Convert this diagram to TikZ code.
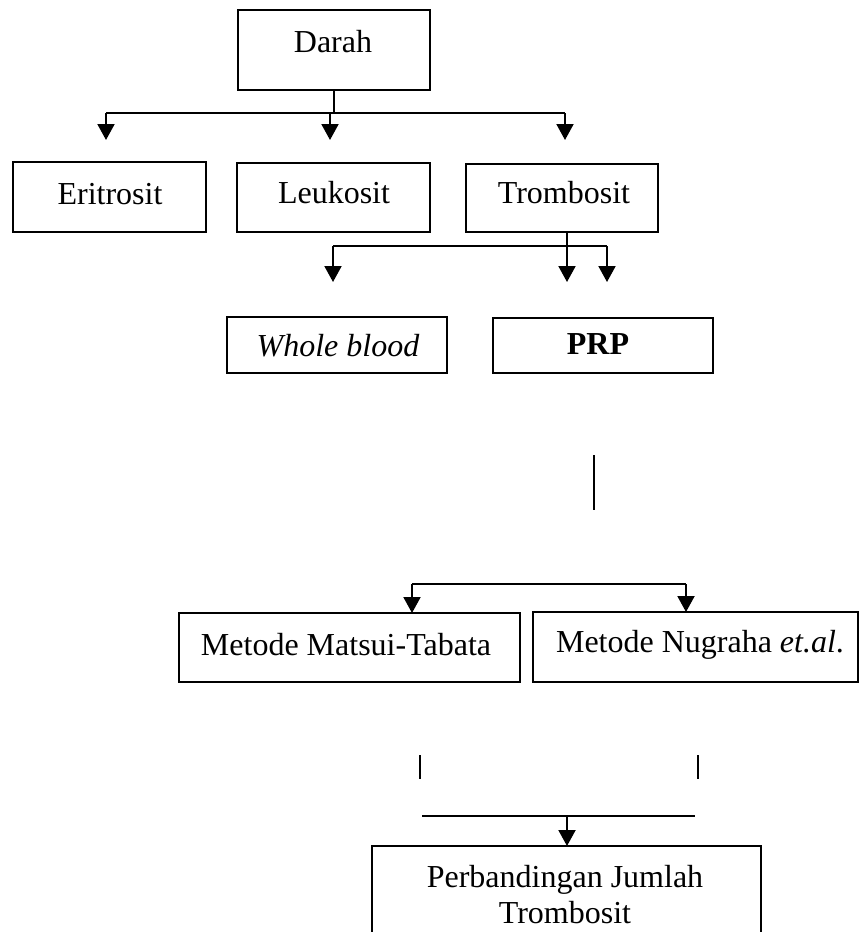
\documentclass[tikz,border=0pt]{standalone}
\usepackage{fontspec}
\setmainfont{Liberation Serif}
\usetikzlibrary{arrows.meta}
\begin{document}
\begin{tikzpicture}[x=0.5pt,y=-0.5pt,
 box/.style 2 args={draw, line width=0.8pt, inner sep=0pt, outer sep=0pt, minimum width=#1*0.5pt, minimum height=#2*0.5pt},
 txt/.style={anchor=base, inner sep=0pt, font=\fontsize{16}{18}\selectfont},
 link/.style={line width=1pt},
 arr/.style={line width=1pt, -{Triangle[width=8.5pt,length=8pt]}}]
\clip (0,0) rectangle (860,932);
\fill[white] (0,0) rectangle (860,932);
% boxes
\node[box={192}{80}] (darah) at (334,50) {};
\node[box={193}{70}] (eri) at (109.5,197) {};
\node[box={193}{69}] (leu) at (333.5,197.5) {};
\node[box={192}{68}] (tro) at (562,198) {};
\node[box={220}{56}] (whole) at (337,345) {};
\node[box={220}{55}] (prp) at (603,345.5) {};
\node[box={341}{69}] (mat) at (349.5,647.5) {};
\node[box={325}{70}] (nug) at (695.5,647) {};
\node[box={389}{104}] (per) at (566.5,898) {};
% texts
\node[txt] (darahT) at (333,52) {Darah};
\node[txt] (eriT) at (110,204) {Eritrosit};
\node[txt] (leuT) at (334,203) {Leukosit};
\node[txt] (troT) at (564,203) {Trombosit};
\node[txt] (wholeT) at (338,356) {\itshape Whole blood};
\node[txt] (prpT) at (598,354) {\bfseries PRP};
\node[txt] (matT) at (346,655) {Metode Matsui-Tabata};
\node[txt] (nugT) at (700,652) {Metode Nugraha \textit{et.al}.};
\node[txt] (perT1) at (565,887) {Perbandingan Jumlah};
\node[txt] (perT2) at (565,923) {Trombosit};
% connectors from Darah
\coordinate (dj) at (334,113);
\coordinate (bl) at (106,113);
\coordinate (bm) at (330,113);
\coordinate (br) at (565,113);
\coordinate (t1) at (106,140);
\coordinate (t2) at (330,140);
\coordinate (t3) at (565,140);
\draw[link] (darah.south) -- (dj);
\draw[link] (bl) -- (br);
\draw[arr] (bl) -- (t1);
\draw[arr] (bm) -- (t2);
\draw[arr] (br) -- (t3);
% connectors from Trombosit
\coordinate (ts) at (567,232);
\coordinate (tl) at (333,246);
\coordinate (tr) at (607,246);
\coordinate (u1) at (333,282);
\coordinate (u2) at (567,282);
\coordinate (u3) at (607,282);
\draw[arr] (ts) -- (u2);
\draw[link] (tl) -- (tr);
\draw[arr] (tl) -- (u1);
\draw[arr] (tr) -- (u3);
% lone line under PRP
\coordinate (v1) at (594,455);
\coordinate (v2) at (594,510);
\draw[link] (v1) -- (v2);
% to methods
\coordinate (ml) at (412,584);
\coordinate (mr) at (686,584);
\draw[link] (ml) -- (mr);
\draw[arr] (ml) -- (mat.north -| ml);
\draw[arr] (mr) -- (nug.north -| mr);
% lower lines
\coordinate (s1a) at (420,755);
\coordinate (s1b) at (420,779);
\coordinate (s2a) at (698,755);
\coordinate (s2b) at (698,779);
\draw[link] (s1a) -- (s1b);
\draw[link] (s2a) -- (s2b);
\coordinate (hl) at (422,816);
\coordinate (hr) at (695,816);
\coordinate (hm) at (567,816);
\draw[link] (hl) -- (hr);
\draw[arr] (hm) -- (per.north -| hm);
\end{tikzpicture}
\end{document}
